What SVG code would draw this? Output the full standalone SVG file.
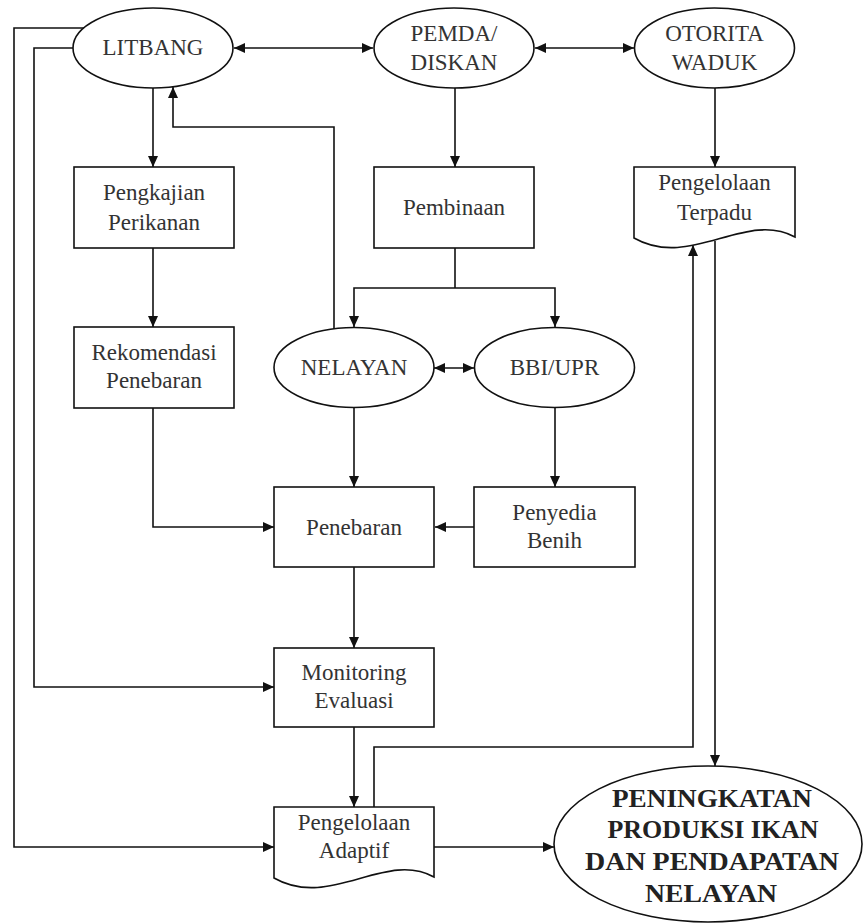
<svg xmlns="http://www.w3.org/2000/svg" width="864" height="924" viewBox="0 0 864 924">
<style>
.shape{fill:#fff;stroke:#111;stroke-width:1.6}
.t{font-family:"Liberation Serif",serif;font-size:23px;fill:#333;text-anchor:middle}
.b{font-family:"Liberation Serif",serif;font-size:26px;font-weight:bold;fill:#222;text-anchor:middle}
.c{fill:none;stroke:#111;stroke-width:1.6}
.a{marker-end:url(#ah)}
.d{marker-start:url(#ah);marker-end:url(#ah)}
</style>
<defs>
<marker id="ah" markerUnits="userSpaceOnUse" markerWidth="12" markerHeight="10" refX="11" refY="5" orient="auto-start-reverse">
<path d="M0,0 L11,5 L0,10 z" fill="#111"/>
</marker>
</defs>
<rect width="864" height="924" fill="#fff"/>
<g id="connectors">
<path class="c d" d="M234,48 H373"/>
<path class="c d" d="M535,48 H634"/>
<path class="c a" d="M153,88 V167"/>
<path class="c a" d="M334,329 V127 H173 V87"/>
<path class="c a" d="M153,248 V327"/>
<path class="c a" d="M455,88 V167"/>
<path class="c" d="M455,248 V288"/>
<path class="c a" d="M455,288 H354 V327"/>
<path class="c a" d="M455,288 H555 V327"/>
<path class="c a" d="M715,88 V167"/>
<path class="c d" d="M434,368 H474"/>
<path class="c a" d="M354,408 V487"/>
<path class="c a" d="M153,408 V527 H274"/>
<path class="c a" d="M555,408 V487"/>
<path class="c a" d="M474,527 H435"/>
<path class="c a" d="M354,567 V648"/>
<path class="c a" d="M73,48 H34 V687 H274"/>
<path class="c a" d="M84,28 H14 V847 H274"/>
<path class="c a" d="M354,727 V807"/>
<path class="c a" d="M374,807 V747 H693 V245"/>
<path class="c a" d="M715,241 V766"/>
<path class="c a" d="M434,847 H554"/>
</g>
<g id="litbang">
<ellipse class="shape" cx="153" cy="48" rx="80" ry="40"/>
<text class="t" x="153" y="55">LITBANG</text>
</g>
<g id="pemda">
<ellipse class="shape" cx="454" cy="48" rx="80" ry="40"/>
<text class="t" x="454" y="41">PEMDA/</text>
<text class="t" x="454" y="70">DISKAN</text>
</g>
<g id="otorita">
<ellipse class="shape" cx="714.5" cy="48" rx="80" ry="40"/>
<text class="t" x="714.5" y="41">OTORITA</text>
<text class="t" x="714.5" y="70">WADUK</text>
</g>
<g id="pengkajian">
<rect class="shape" x="74" y="167" width="160" height="81"/>
<text class="t" x="154" y="200">Pengkajian</text>
<text class="t" x="154" y="230">Perikanan</text>
</g>
<g id="pembinaan">
<rect class="shape" x="374" y="167" width="160" height="81"/>
<text class="t" x="454" y="215">Pembinaan</text>
</g>
<g id="terpadu">
<path class="shape" d="M634,167 H795 V237 C745,210 690,270 634,238 Z"/>
<text class="t" x="714.5" y="190">Pengelolaan</text>
<text class="t" x="714.5" y="220">Terpadu</text>
</g>
<g id="rekomendasi">
<rect class="shape" x="74" y="327" width="160" height="81"/>
<text class="t" x="154" y="360">Rekomendasi</text>
<text class="t" x="154" y="388">Penebaran</text>
</g>
<g id="nelayan">
<ellipse class="shape" cx="354" cy="367.5" rx="80" ry="40"/>
<text class="t" x="354" y="375">NELAYAN</text>
</g>
<g id="bbi">
<ellipse class="shape" cx="554.5" cy="367.5" rx="80" ry="40"/>
<text class="t" x="554.5" y="375">BBI/UPR</text>
</g>
<g id="penebaran">
<rect class="shape" x="274" y="487" width="160" height="80"/>
<text class="t" x="354" y="535">Penebaran</text>
</g>
<g id="penyedia">
<rect class="shape" x="474" y="487" width="161" height="80"/>
<text class="t" x="554.5" y="520">Penyedia</text>
<text class="t" x="554.5" y="548">Benih</text>
</g>
<g id="monitoring">
<rect class="shape" x="274" y="648" width="160" height="79"/>
<text class="t" x="354" y="680">Monitoring</text>
<text class="t" x="354" y="708">Evaluasi</text>
</g>
<g id="adaptif">
<path class="shape" d="M274,807 H434 V877 C385,850 330,910 274,878 Z"/>
<text class="t" x="354" y="830">Pengelolaan</text>
<text class="t" x="354" y="858">Adaptif</text>
</g>
<g id="peningkatan">
<ellipse class="shape" cx="708" cy="844" rx="154" ry="78"/>
<text class="b" x="712" y="807" textLength="200" lengthAdjust="spacingAndGlyphs">PENINGKATAN</text>
<text class="b" x="713" y="838" textLength="211" lengthAdjust="spacingAndGlyphs">PRODUKSI IKAN</text>
<text class="b" x="712" y="870" textLength="254" lengthAdjust="spacingAndGlyphs">DAN PENDAPATAN</text>
<text class="b" x="711" y="902" textLength="132" lengthAdjust="spacingAndGlyphs">NELAYAN</text>
</g>
</svg>
